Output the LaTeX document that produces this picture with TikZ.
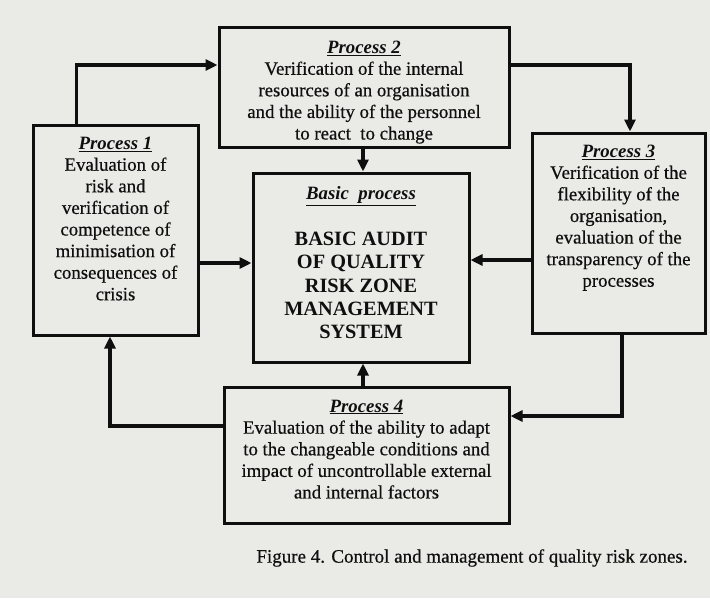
\documentclass[tikz,border=0pt]{standalone}
\usepackage{fontspec}
\setmainfont{Liberation Serif}
\newfontfamily\printfont{Liberation Serif}[FakeBold=0.5]
\usetikzlibrary{arrows.meta,calc}
\definecolor{paper}{RGB}{234,234,231}
\definecolor{ink}{RGB}{15,15,15}
\newcommand{\procname}[1]{\underline{{\rmfamily\bfseries\itshape #1}}}

\begin{document}
\begin{tikzpicture}[x=1pt,y=-1pt,
  box/.style={draw=ink, line width=3pt, rectangle, inner sep=0pt},
  body/.style={anchor=north, align=center, inner sep=0pt, text=ink,
    font=\printfont\fontsize{18.8}{21.6}\selectfont},
  capsline/.style={anchor=north, align=center, inner sep=0pt, text=ink,
    font=\rmfamily\fontsize{20.3}{23.3}\selectfont\bfseries},
  arr/.style={draw=ink, line width=3.2pt, -{Triangle[length=12pt,width=11pt]}}]

% paper
\fill[paper] (0,0) rectangle (710,598);
\useasboundingbox (0,0) rectangle (710,598);

% boxes
\node[box, minimum width=165, minimum height=210] (p1) at (115.5,230) {};
\node[box, minimum width=290, minimum height=120] (p2) at (364,87) {};
\node[box, minimum width=216, minimum height=189] (basic) at (361,267.5) {};
\node[box, minimum width=173, minimum height=200] (p3) at (618.5,233) {};
\node[box, minimum width=285, minimum height=136] (p4) at (366.5,455) {};

% box texts
\node[body] (p1t) at ([yshift=-13]p1.north) {\procname{Process 1}\\Evaluation of\\risk and\\verification of\\competence of\\minimisation of\\consequences of\\crisis};
\node[body] (p2t) at ([yshift=-15]p2.north) {\procname{Process 2}\\Verification of the internal\\resources of an organisation\\and the ability of the personnel\\to react\ \ to change};
\node[body] (p3t) at ([yshift=-13]p3.north) {\procname{Process 3}\\Verification of the\\flexibility of the\\organisation,\\evaluation of the\\transparency of the\\processes};
\node[body] (p4t) at ([yshift=-14]p4.north) {\procname{Process 4}\\Evaluation of the ability to adapt\\to the changeable conditions and\\impact of uncontrollable external\\and internal factors};
\node[body] (bh) at ([yshift=-15]basic.north) {\procname{Basic\ \ process}};
\node[capsline] (bt) at ([yshift=-60.5]basic.north) {BASIC AUDIT\\OF QUALITY\\RISK ZONE\\MANAGEMENT\\SYSTEM};

% connectors
\draw[arr] ([xshift=45]p1.north west) |- ([yshift=22]p2.west);
\draw[arr] ([yshift=22]p2.east) -| ([xshift=11.5]p3.north);
\draw[arr] ([xshift=-1]p2.south) -- ([xshift=-1]p2.south |- basic.north);
\draw[arr] ([yshift=-33]p1.east) -- ([yshift=-33]p1.east -| basic.west);
\draw[arr] ([yshift=-27]p3.west) -- ([yshift=-27]p3.west -| basic.east);
\draw[arr] ([xshift=-3.5]p4.north) -- ([xshift=-3.5]p4.north |- basic.south);
\draw[arr] ([xshift=3.5]p3.south) |- ([yshift=39]p4.east);
\draw[arr] ([yshift=29]p4.west) -| ([xshift=-5.5]p1.south);

% caption
\node[inner sep=0pt, text=ink, font=\printfont\fontsize{19}{22}\selectfont] (cap) at (472,558) {Figure 4. Control and management of quality risk zones.};
\end{tikzpicture}
\end{document}
